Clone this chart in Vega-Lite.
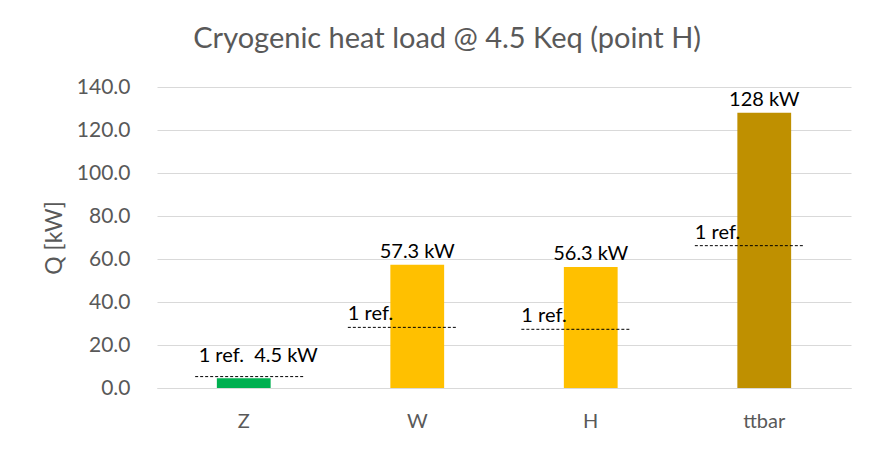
{
  "$schema": "https://vega.github.io/schema/vega-lite/v6.json",
  "width": 694,
  "height": 301,
  "autosize": {"type": "none"},
  "padding": {"left": 157, "top": 87, "right": 23, "bottom": 67},
  "background": "white",
  "title": {
    "text": "Cryogenic heat load @ 4.5 Keq (point H)",
    "font": "Lato",
    "fontSize": 29,
    "fontWeight": "normal",
    "color": "#595959",
    "anchor": "middle",
    "frame": "bounds",
    "offset": 22
  },
  "config": {
    "view": {"stroke": null},
    "font": "Lato"
  },
  "data": {
    "values": [
      {"cat": "Z", "q": 4.5, "ref": 5.3, "label": "", "reflabel": "1 ref.\u00a0\u00a04.5 kW"},
      {"cat": "W", "q": 57.3, "ref": 28.2, "label": "57.3 kW", "reflabel": "1 ref."},
      {"cat": "H", "q": 56.3, "ref": 27.3, "label": "56.3 kW", "reflabel": "1 ref."},
      {"cat": "ttbar", "q": 128, "ref": 66.2, "label": "128 kW", "reflabel": "1 ref."}
    ]
  },
  "layer": [
    {
      "mark": {"type": "bar", "width": {"band": 0.31}},
      "encoding": {
        "x": {
          "field": "cat", "type": "nominal", "sort": null,
          "scale": {"paddingInner": 0, "paddingOuter": 0},
          "axis": {
            "title": null, "labelAngle": 0, "labelFont": "Lato", "labelFontSize": 20,
            "labelColor": "#595959", "labelPadding": 23, "ticks": false,
            "domainColor": "#d9d9d9", "domainWidth": 1
          }
        },
        "y": {
          "field": "q", "type": "quantitative",
          "scale": {"domain": [0, 140]},
          "axis": {
            "title": "Q [kW]", "titleFont": "Lato", "titleFontSize": 23, "titleFontWeight": "normal",
            "titleColor": "#595959", "titlePadding": 10,
            "values": [0, 20, 40, 60, 80, 100, 120, 140], "format": ".1f",
            "labelFont": "Lato", "labelFontSize": 21, "labelColor": "#595959", "labelPadding": 27,
            "ticks": false, "domain": false, "gridColor": "#d9d9d9", "gridWidth": 1
          }
        },
        "color": {
          "field": "cat", "type": "nominal", "legend": null,
          "scale": {"domain": ["Z", "W", "H", "ttbar"], "range": ["#00b050", "#ffc000", "#ffc000", "#bf9000"]}
        }
      }
    },
    {
      "transform": [{"filter": "datum.cat != 'Z'"}],
      "mark": {"type": "text", "baseline": "alphabetic", "dy": -7, "fontSize": 20, "color": "black", "font": "Lato"},
      "encoding": {
        "x": {"field": "cat", "type": "nominal", "sort": null},
        "y": {"field": "q", "type": "quantitative"},
        "text": {"field": "label"}
      }
    },
    {
      "transform": [{"filter": "datum.cat != 'Z'"}],
      "mark": {"type": "rule", "color": "black", "strokeWidth": 1, "strokeDash": [3, 2]},
      "encoding": {
        "x": {"field": "cat", "type": "nominal", "sort": null, "bandPosition": 0.1},
        "x2": {"field": "cat", "bandPosition": 0.73},
        "y": {"field": "ref", "type": "quantitative"}
      }
    },
    {
      "transform": [{"filter": "datum.cat == 'Z'"}],
      "mark": {"type": "rule", "color": "black", "strokeWidth": 1, "strokeDash": [3, 2]},
      "encoding": {
        "x": {"field": "cat", "type": "nominal", "sort": null, "bandPosition": 0.22},
        "x2": {"field": "cat", "bandPosition": 0.85},
        "y": {"field": "ref", "type": "quantitative"}
      }
    },
    {
      "transform": [{"filter": "datum.cat != 'Z'"}],
      "mark": {"type": "text", "align": "left", "baseline": "alphabetic", "dy": -7, "fontSize": 20, "color": "black", "font": "Lato"},
      "encoding": {
        "x": {"field": "cat", "type": "nominal", "sort": null, "bandPosition": 0.1},
        "y": {"field": "ref", "type": "quantitative"},
        "text": {"field": "reflabel"}
      }
    },
    {
      "transform": [{"filter": "datum.cat == 'Z'"}],
      "mark": {"type": "text", "align": "left", "baseline": "alphabetic", "dy": -15, "fontSize": 20, "color": "black", "font": "Lato"},
      "encoding": {
        "x": {"field": "cat", "type": "nominal", "sort": null, "bandPosition": 0.24},
        "y": {"field": "ref", "type": "quantitative"},
        "text": {"field": "reflabel"}
      }
    }
  ]
}
